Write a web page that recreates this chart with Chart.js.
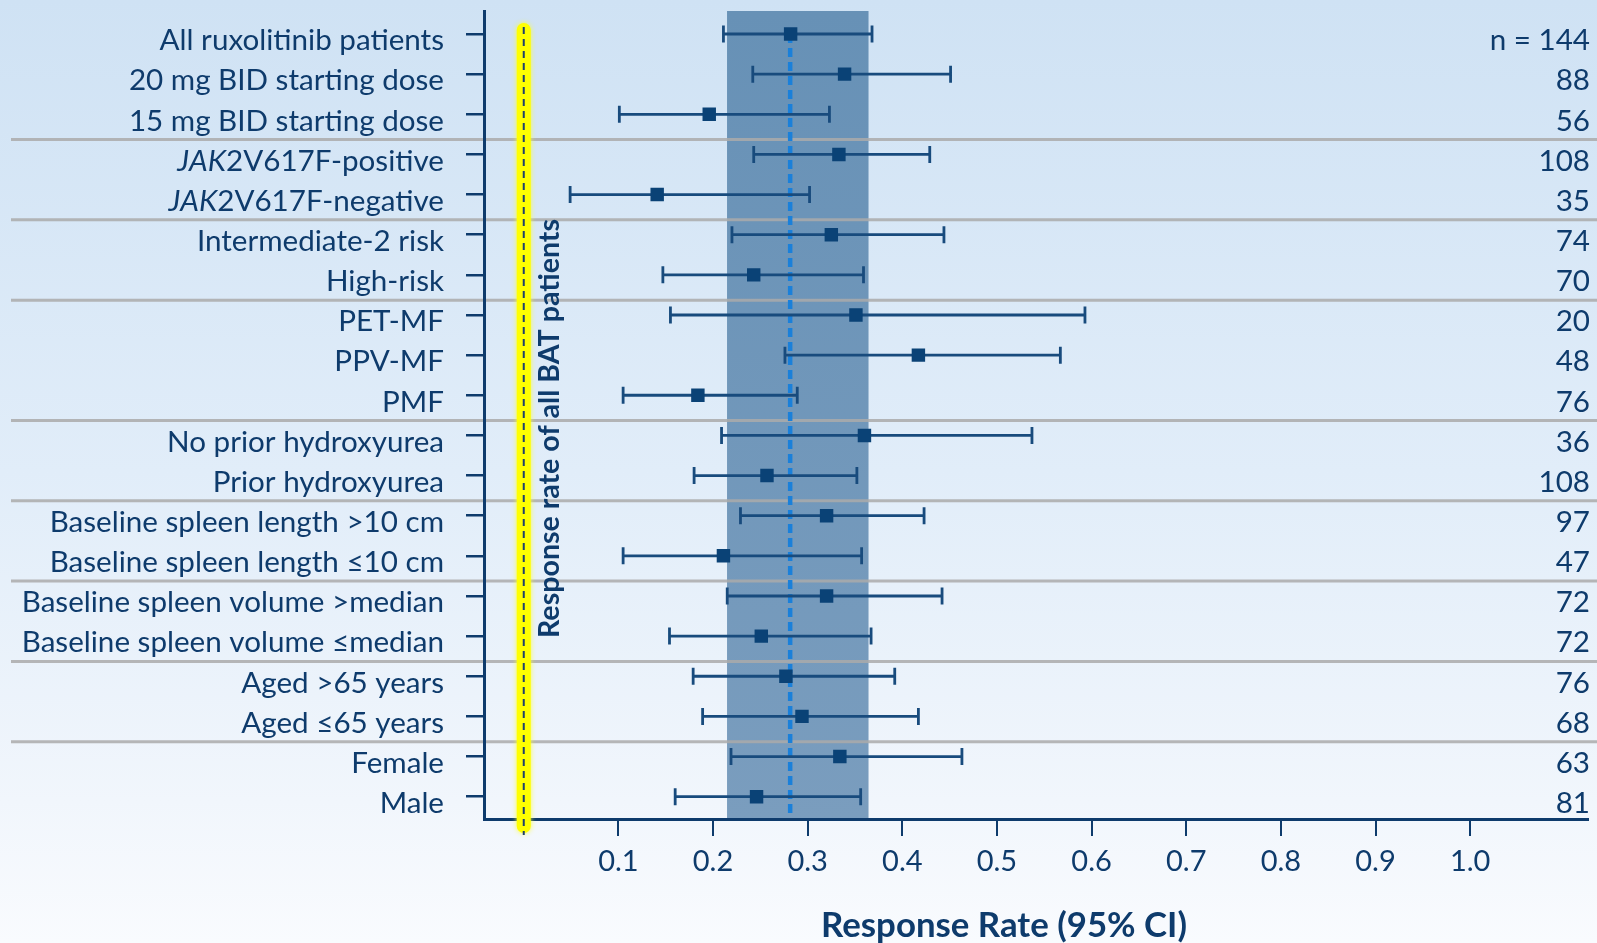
<!DOCTYPE html>
<html><head><meta charset="utf-8">
<script src="https://cdn.jsdelivr.net/npm/chart.js@4/dist/chart.umd.min.js"></script>
<style>html,body{margin:0;padding:0;background:#e4eef9;overflow:hidden}#wrap{width:1597px;height:943px}</style>
</head><body><div id="wrap"><canvas id="c" width="1597" height="943"></canvas></div>
<script>
const categories = ['All ruxolitinib patients','20 mg BID starting dose','15 mg BID starting dose','JAK2V617F-positive','JAK2V617F-negative','Intermediate-2 risk','High-risk','PET-MF','PPV-MF','PMF','No prior hydroxyurea','Prior hydroxyurea','Baseline spleen length >10 cm','Baseline spleen length \u226410 cm','Baseline spleen volume >median','Baseline spleen volume \u2264median','Aged >65 years','Aged \u226465 years','Female','Male'];
const nLabels = ['n = 144','88','56','108','35','74','70','20','48','76','36','108','97','47','72','72','76','68','63','81'];
const rate  = [0.282,0.339,0.196,0.333,0.141,0.325,0.243,0.351,0.417,0.184,0.360,0.257,0.320,0.211,0.320,0.251,0.277,0.294,0.334,0.246];
const lower = [0.211,0.242,0.101,0.243,0.049,0.220,0.147,0.155,0.276,0.105,0.209,0.180,0.229,0.105,0.215,0.154,0.179,0.189,0.219,0.160];
const upper = [0.368,0.451,0.323,0.429,0.302,0.444,0.359,0.593,0.567,0.289,0.537,0.352,0.423,0.357,0.442,0.367,0.392,0.417,0.463,0.356];
const groupEnds = [2,4,6,9,11,13,15,17];
const batRate = 0.2815, batLower = 0.2148, batUpper = 0.3643;
const xTicks = [0.1,0.2,0.3,0.4,0.5,0.6,0.7,0.8,0.9,1.0];
const xTitle = 'Response Rate (95% CI)';
const refLabel = 'Response rate of all BAT patients';

const navy = '#0e3b6c';
const FONT = 'Lato';
const LABEL_SIZE = 29.6;

const bgPlugin = {
  id: 'bg',
  beforeDraw(chart) {
    const {ctx, width, height, chartArea: a, scales: {x, y}} = chart;
    ctx.save();
    const g = ctx.createLinearGradient(0, 0, 0, height);
    g.addColorStop(0, '#cfe2f4'); g.addColorStop(0.5, '#e1edf9');
    g.addColorStop(0.85, '#f1f6fc'); g.addColorStop(1, '#f9fbfe');
    ctx.fillStyle = g; ctx.fillRect(0, 0, width, height);
    const bl = x.getPixelForValue(batLower), br = x.getPixelForValue(batUpper);
    const g2 = ctx.createLinearGradient(0, a.top, 0, a.bottom);
    g2.addColorStop(0, '#6791b6'); g2.addColorStop(1, '#7a9dbe');
    ctx.fillStyle = g2; ctx.fillRect(bl, a.top, br - bl, a.bottom - a.top);
    ctx.strokeStyle = 'rgba(170,170,170,0.85)'; ctx.lineWidth = 3;
    groupEnds.forEach(i => {
      const yy = y.getPixelForValue(i + 0.63);
      ctx.beginPath(); ctx.moveTo(11, yy); ctx.lineTo(width, yy); ctx.stroke();
    });
    ctx.restore();
  }
};

const barsPlugin = {
  id: 'bars',
  beforeDatasetsDraw(chart) {
    const {ctx, chartArea: a, scales: {x, y}} = chart;
    ctx.save();
    const bx = x.getPixelForValue(batRate);
    ctx.strokeStyle = '#1a80da'; ctx.lineWidth = 4.5; ctx.setLineDash([9, 5]);
    ctx.beginPath(); ctx.moveTo(bx, y.getPixelForValue(0)); ctx.lineTo(bx, a.bottom - 2); ctx.stroke();
    ctx.setLineDash([]);
    ctx.strokeStyle = '#184b7d'; ctx.lineWidth = 2.8;
    categories.forEach((c, i) => {
      const yy = y.getPixelForValue(i), x0 = x.getPixelForValue(lower[i]), x1 = x.getPixelForValue(upper[i]);
      ctx.beginPath();
      ctx.moveTo(x0, yy); ctx.lineTo(x1, yy);
      ctx.moveTo(x0, yy - 8.5); ctx.lineTo(x0, yy + 8.5);
      ctx.moveTo(x1, yy - 8.5); ctx.lineTo(x1, yy + 8.5);
      ctx.stroke();
    });
    ctx.restore();
  }
};

const textPlugin = {
  id: 'texts',
  afterDraw(chart) {
    const {ctx, chartArea: a, scales: {x, y}} = chart;
    ctx.save();
    const zx = x.getPixelForValue(0);
    ctx.shadowColor = 'rgba(255,255,40,0.9)'; ctx.shadowBlur = 5;
    ctx.fillStyle = '#ffff00';
    ctx.beginPath(); ctx.roundRect(zx - 7, 23, 14, a.bottom + 14 - 23, 7); ctx.fill();
    ctx.shadowBlur = 0; ctx.shadowColor = 'transparent';
    ctx.strokeStyle = '#1d3f6e'; ctx.lineWidth = 2; ctx.setLineDash([7, 5]);
    ctx.beginPath(); ctx.moveTo(zx, 27); ctx.lineTo(zx, a.bottom + 16); ctx.stroke();
    ctx.setLineDash([]);
    ctx.fillStyle = navy; ctx.textBaseline = 'alphabetic';
    categories.forEach((c, i) => {
      const yy = y.getPixelForValue(i) + 16.3;
      let ital = '', rest = c;
      if (c.startsWith('JAK')) { ital = 'JAK'; rest = c.slice(3); }
      ctx.font = `${LABEL_SIZE}px ${FONT}`;
      const wr = ctx.measureText(rest).width;
      let wi = 0;
      if (ital) { ctx.font = `italic ${LABEL_SIZE}px ${FONT}`; wi = ctx.measureText(ital).width; }
      const start = 444 - wr - wi;
      ctx.textAlign = 'left';
      if (ital) ctx.fillText(ital, start, yy);
      ctx.font = `${LABEL_SIZE}px ${FONT}`;
      ctx.fillText(rest, start + wi, yy);
      ctx.textAlign = 'right';
      ctx.fillText(nLabels[i], 1590, yy);
    });
    // x-axis title
    ctx.font = `bold 34.8px ${FONT}`; ctx.textAlign = 'center'; ctx.textBaseline = 'middle';
    ctx.fillText(xTitle, 1004, 926);
    // rotated reference label
    ctx.translate(550, 428.5); ctx.rotate(-Math.PI / 2);
    ctx.font = `bold 28.6px ${FONT}`; ctx.textAlign = 'center'; ctx.textBaseline = 'middle';
    ctx.fillText(refLabel, 0, 0);
    ctx.restore();
  }
};

function build() {
  new Chart(document.getElementById('c'), {
    type: 'scatter',
    data: {
      datasets: [{
        data: rate.map((v, i) => ({x: v, y: i})),
        pointStyle: 'rect', pointRadius: 9.5, pointHoverRadius: 9.5,
        backgroundColor: '#0a4276', borderColor: '#0a4276', borderWidth: 0
      }]
    },
    options: {
      responsive: false, animation: false, devicePixelRatio: 1, events: [],
      layout: {padding: {left: 466, right: 0, top: 11, bottom: 0}},
      plugins: {legend: {display: false}, tooltip: {enabled: false}},
      scales: {
        x: {
          type: 'linear', min: -0.042, max: 1.124,
          afterBuildTicks: s => { s.ticks = xTicks.map(v => ({value: v})); },
          afterFit: s => { s.height = 124; },
          border: {display: true, color: navy, width: 3},
          grid: {drawOnChartArea: false, drawTicks: true, tickLength: 17, color: navy, lineWidth: 2},
          ticks: {font: {family: FONT, size: 29, lineHeight: 1.2}, color: navy, padding: 8,
                  autoSkip: false, maxRotation: 0, callback: v => Number(v).toFixed(1)},
          title: {display: false}
        },
        y: {
          type: 'linear', reverse: true, min: -0.573, max: 19.556,
          afterBuildTicks: s => { s.ticks = categories.map((c, i) => ({value: i})); },
          afterFit: s => { s.width = 18; },
          border: {display: true, color: navy, width: 3},
          grid: {drawOnChartArea: false, drawTicks: true, tickLength: 18, color: navy, lineWidth: 2.5},
          ticks: {display: false}
        }
      }
    },
    plugins: [bgPlugin, barsPlugin, textPlugin]
  });
}
Promise.all([
  document.fonts.load(`28px ${FONT}`), document.fonts.load(`bold 28px ${FONT}`),
  document.fonts.load(`italic 28px ${FONT}`)
]).then(build, build);
</script>
</body></html>
